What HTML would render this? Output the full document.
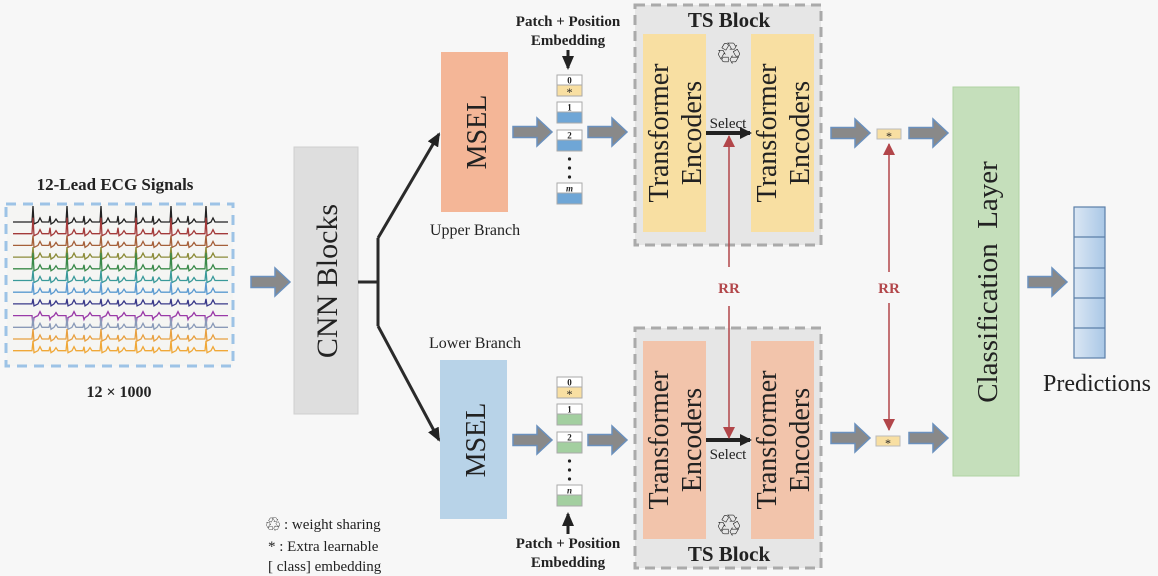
<!DOCTYPE html>
<html><head><meta charset="utf-8"><style>
html,body{margin:0;padding:0;background:#f7f7f7;}
svg{display:block;}
.s{font-family:"Liberation Serif",serif;fill:#222;}
.b{font-family:"Liberation Serif",serif;font-weight:bold;fill:#222;}
</style></head><body>
<svg id="sv" width="1158" height="576" viewBox="0 0 1158 576" xmlns="http://www.w3.org/2000/svg">
<defs>
<g id="fa"><path d="M0,-5.5 H24 V-14 L39,0 L24,14 V5.5 H0 Z" fill="#898989" stroke="#6a90bd" stroke-width="1.5"/></g>
<marker id="ah" markerWidth="12" markerHeight="12" refX="10" refY="6" orient="auto" markerUnits="userSpaceOnUse"><path d="M0,0 L12,6 L0,12 Z" fill="#222"/></marker>
<marker id="rh" markerWidth="12" markerHeight="12" refX="11" refY="6" orient="auto" markerUnits="userSpaceOnUse"><path d="M0,0 L12,6 L0,12 Z" fill="#b2464a"/></marker>
<marker id="kh" markerWidth="14" markerHeight="12" refX="12" refY="6" orient="auto" markerUnits="userSpaceOnUse"><path d="M0,0 L14,6 L0,12 Z" fill="#222"/></marker>
<linearGradient id="pg" x1="0" x2="1"><stop offset="0" stop-color="#dbe7f4"/><stop offset="1" stop-color="#a9c7e6"/></linearGradient>
</defs>
<rect width="1158" height="576" fill="#f7f7f7"/>

<!-- ECG -->
<text x="115" y="190" text-anchor="middle" class="b" font-size="17">12-Lead ECG Signals</text>
<rect x="7" y="204" width="226" height="162" fill="#f5f5f3"/>
<g id="ecg"></g>
<rect x="6" y="204" width="227" height="162" fill="none" stroke="#9dc3e6" stroke-width="3" stroke-dasharray="10,7"/>
<text x="119" y="397" text-anchor="middle" class="b" font-size="16">12 × 1000</text>

<use href="#fa" x="251" y="282"/>

<!-- CNN -->
<rect x="294" y="147" width="64" height="267" fill="#dedede" stroke="#cfcfcf"/>
<text transform="translate(337,281) rotate(-90)" text-anchor="middle" class="s" font-size="30">CNN Blocks</text>
<g stroke="#2a2a2a" stroke-width="3" fill="none">
<line x1="358" y1="282" x2="378" y2="282"/>
<line x1="378" y1="238" x2="378" y2="326"/>
<polyline points="378,238 439,134" marker-end="url(#kh)"/>
<polyline points="378,326 439,440" marker-end="url(#kh)"/>
</g>

<!-- MSEL -->
<rect x="441" y="52" width="67" height="160" fill="#f4b697"/>
<text transform="translate(486,132) rotate(-90)" text-anchor="middle" class="s" font-size="28">MSEL</text>
<text x="475" y="235" text-anchor="middle" class="s" font-size="16">Upper Branch</text>
<rect x="440" y="360" width="67" height="159" fill="#b8d3e8"/>
<text transform="translate(485,440) rotate(-90)" text-anchor="middle" class="s" font-size="28">MSEL</text>
<text x="475" y="348" text-anchor="middle" class="s" font-size="16">Lower Branch</text>

<use href="#fa" x="513" y="132"/>
<use href="#fa" x="588" y="132"/>
<use href="#fa" x="513" y="440"/>
<use href="#fa" x="588" y="440"/>

<!-- token stacks -->
<g id="tok"></g>
<text x="568" y="26" text-anchor="middle" class="b" font-size="15">Patch + Position</text>
<text x="568" y="45" text-anchor="middle" class="b" font-size="15">Embedding</text>
<line x1="568" y1="50" x2="568" y2="68" stroke="#222" stroke-width="3" marker-end="url(#kh)"/>
<line x1="568" y1="534" x2="568" y2="514" stroke="#222" stroke-width="3" marker-end="url(#kh)"/>
<text x="568" y="548" text-anchor="middle" class="b" font-size="15">Patch + Position</text>
<text x="568" y="567" text-anchor="middle" class="b" font-size="15">Embedding</text>

<!-- TS blocks -->
<rect x="635" y="5" width="186" height="240" fill="#e6e6e6" stroke="#aaa" stroke-width="3" stroke-dasharray="10,6"/>
<text x="729" y="27" text-anchor="middle" class="b" font-size="21">TS Block</text>
<rect x="643" y="34" width="63" height="198" fill="#f8dfa2"/>
<rect x="751" y="34" width="63" height="198" fill="#f8dfa2"/>
<text x="729" y="64" text-anchor="middle" font-family="DejaVu Sans" font-size="30" font-weight="bold" fill="#222">♲</text>

<rect x="635" y="328" width="186" height="240" fill="#e6e6e6" stroke="#aaa" stroke-width="3" stroke-dasharray="10,6"/>
<rect x="643" y="341" width="63" height="198" fill="#f2c4ab"/>
<rect x="751" y="341" width="63" height="198" fill="#f2c4ab"/>
<text x="729" y="536" text-anchor="middle" font-family="DejaVu Sans" font-size="30" font-weight="bold" fill="#222">♲</text>
<text x="729" y="561" text-anchor="middle" class="b" font-size="21">TS Block</text>

<g class="s" font-size="28" text-anchor="middle">
<text transform="translate(668,133) rotate(-90)">Transformer</text>
<text transform="translate(701,133) rotate(-90)">Encoders</text>
<text transform="translate(776,133) rotate(-90)">Transformer</text>
<text transform="translate(809,133) rotate(-90)">Encoders</text>
<text transform="translate(668,440) rotate(-90)">Transformer</text>
<text transform="translate(701,440) rotate(-90)">Encoders</text>
<text transform="translate(776,440) rotate(-90)">Transformer</text>
<text transform="translate(809,440) rotate(-90)">Encoders</text>
</g>
<line x1="706" y1="133" x2="750" y2="133" stroke="#222" stroke-width="4" marker-end="url(#ah)"/>
<text x="728" y="128" text-anchor="middle" class="s" font-size="15">Select</text>
<line x1="706" y1="440" x2="750" y2="440" stroke="#222" stroke-width="4" marker-end="url(#ah)"/>
<text x="728" y="459" text-anchor="middle" class="s" font-size="15">Select</text>

<!-- RR lines -->
<g stroke="#b2464a" stroke-width="1.5">
<line x1="729" y1="267" x2="729" y2="136" marker-end="url(#rh)"/>
<line x1="729" y1="306" x2="729" y2="438" marker-end="url(#rh)"/>
<line x1="889" y1="272" x2="889" y2="144" marker-end="url(#rh)"/>
<line x1="889" y1="303" x2="889" y2="430" marker-end="url(#rh)"/>
</g>
<text x="729" y="293" text-anchor="middle" class="b" font-size="15" style="fill:#b2464a">RR</text>
<text x="889" y="293" text-anchor="middle" class="b" font-size="15" style="fill:#b2464a">RR</text>

<use href="#fa" x="831" y="133"/>
<use href="#fa" x="909" y="133"/>
<use href="#fa" x="831" y="438"/>
<use href="#fa" x="909" y="438"/>
<rect x="877" y="129" width="24" height="10" fill="#f8dfa2" stroke="#bbb"/>
<text x="889" y="140" text-anchor="middle" class="s" font-size="12">*</text>
<rect x="876" y="436" width="24" height="10" fill="#f8dfa2" stroke="#bbb"/>
<text x="888" y="447" text-anchor="middle" class="s" font-size="12">*</text>

<!-- Classification -->
<rect x="953" y="87" width="66" height="389" fill="#c5dfbb" stroke="#b0d3a3"/>
<text transform="translate(997,282) rotate(-90)" text-anchor="middle" class="s" font-size="29" xml:space="preserve">Classification  Layer</text>
<use href="#fa" x="1028" y="282"/>
<g stroke="#5b7fa8" stroke-width="1.2">
<rect x="1074" y="207" width="31" height="151" fill="url(#pg)"/>
<line x1="1074" y1="237" x2="1105" y2="237"/><line x1="1074" y1="268" x2="1105" y2="268"/>
<line x1="1074" y1="298" x2="1105" y2="298"/><line x1="1074" y1="328" x2="1105" y2="328"/>
</g>
<text x="1097" y="391" text-anchor="middle" class="s" font-size="24">Predictions</text>

<!-- legend -->
<text x="273" y="531" text-anchor="middle" font-family="DejaVu Sans" font-size="19" font-weight="bold" fill="#222">♲</text>
<text x="284" y="529" class="s" font-size="15">: weight sharing</text>
<text x="268" y="551" class="s" font-size="15">* : Extra learnable</text>
<text x="268" y="571" class="s" font-size="15">[ class] embedding</text>
</svg>
<script>
var NS="http://www.w3.org/2000/svg";
function el(p,t,a,txt){var e=document.createElementNS(NS,t);for(var k in a)e.setAttribute(k,a[k]);if(txt)e.textContent=txt;p.appendChild(e);return e;}
var g=document.getElementById('ecg');
var cols=["#222","#a33a3a","#a5603a","#8c8c3a","#3a8a4a","#3a9a9a","#5a9ad0","#3a3a8a","#9a3aa8","#8a9ab8","#e8a040","#f0a838"];
var beats=[32,66,100,135,170,205];
for(var i=0;i<12;i++){
 var y=222+i*11.7,d="M13,"+y;
 var up=(i==8)?-1:1;
 for(var b=0;b<6;b++){var x=beats[b];
  d+=" L"+x+","+y+" L"+(x+1)+","+(y-(i==7?5:(i<2||i==4?16:10))*up)+" L"+(x+2)+","+(y+2)+" L"+(x+6)+","+y+" L"+(x+8)+","+(y-4)+" L"+(x+10)+","+y;
  if(b<5){var x2=x+17;d+=" L"+x2+","+y+" L"+(x2+1)+","+(y-(i<2?6:4)*up)+" L"+(x2+2)+","+(y+2)+" L"+(x2+5)+","+y+" L"+(x2+7)+","+(y-3)+" L"+(x2+9)+","+y;}
 }
 d+=" L228,"+y;
 el(g,"path",{d:d,fill:"none",stroke:cols[i],"stroke-width":1.3});
}
var t=document.getElementById('tok');
function stack(x,y0,col,last){
 var ys=[y0,y0+27,y0+55,y0+108];var labs=["0","1","2",last];
 for(var j=0;j<4;j++){var y=ys[j];
  el(t,"rect",{x:x,y:y,width:25,height:10,fill:"#fff",stroke:"#aaa"});
  el(t,"rect",{x:x,y:y+10,width:25,height:11,fill:j==0?"#f8dfa2":col,stroke:"#aaa"});
  el(t,"text",{x:x+12.5,y:y+8.5,"text-anchor":"middle","class":"s","font-size":9,"font-style":j==3?"italic":"normal","font-weight":"bold"},labs[j]);
 }
 el(t,"text",{x:x+12.5,y:y0+21,"text-anchor":"middle","class":"s","font-size":12},"*");
 for(var k=0;k<3;k++)el(t,"circle",{cx:x+12.5,cy:y0+84+k*9,r:1.6,fill:"#222"});
}
stack(557,75,"#6fa6d6","m");
stack(557,377,"#a3cfa0","n");
</script>
</body></html>
